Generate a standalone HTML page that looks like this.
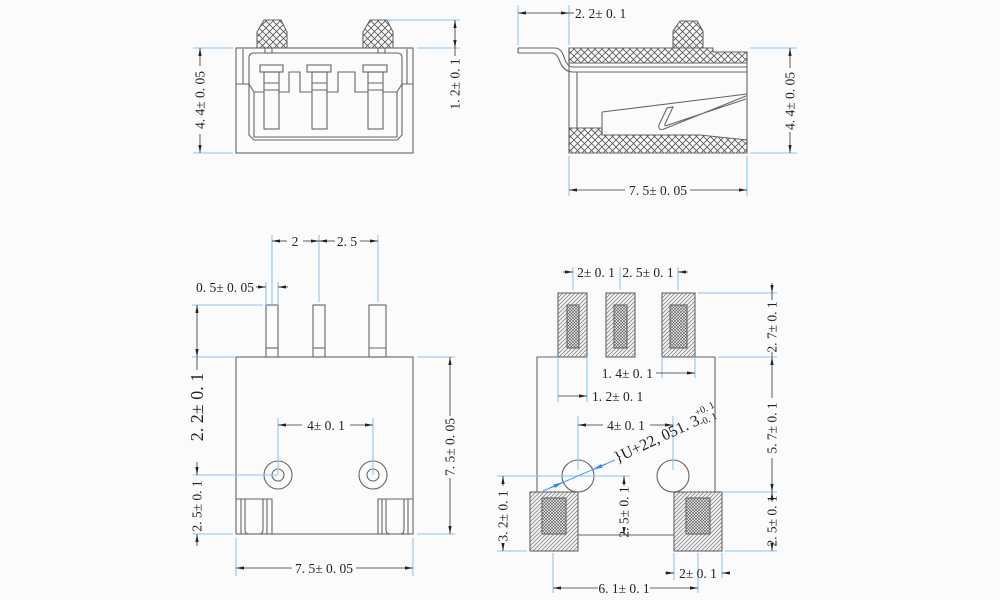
<!DOCTYPE html>
<html><head><meta charset="utf-8"><style>
html,body{margin:0;padding:0;background:#fbfbfb;}
svg{display:block;}
text{font-family:"Liberation Serif",serif;fill:#222;font-size:13.5px;}
</style></head><body>
<svg width="1000" height="600" viewBox="0 0 1000 600" xmlns="http://www.w3.org/2000/svg">
<defs>
<pattern id="xh" width="7" height="7" patternUnits="userSpaceOnUse"><rect width="7" height="7" fill="#fafafa"/><path d="M0,0 L7,7 M7,0 L0,7" stroke="#555" stroke-width="0.8"/></pattern>
<pattern id="dg" width="4" height="4" patternUnits="userSpaceOnUse"><rect width="4" height="4" fill="#f2f2f2"/><path d="M-1,1 L1,-1 M0,4 L4,0 M3,5 L5,3" stroke="#777" stroke-width="0.7"/></pattern>
<pattern id="dx" width="3" height="3" patternUnits="userSpaceOnUse"><rect width="3" height="3" fill="#eee"/><path d="M0,0 L3,3 M3,0 L0,3" stroke="#555" stroke-width="0.6"/></pattern>
<marker id="ar" viewBox="0 0 10 4" refX="10" refY="2" markerWidth="8" markerHeight="3.2" markerUnits="userSpaceOnUse" orient="auto-start-reverse"><path d="M0,0 L10,2 L0,4 z" fill="#222"/></marker>
<marker id="ab" viewBox="0 0 10 4" refX="10" refY="2" markerWidth="10" markerHeight="4" markerUnits="userSpaceOnUse" orient="auto-start-reverse"><path d="M0,0 L10,2 L0,4 z" fill="#2a8cf0"/></marker>
</defs>

<!-- ================= TOP LEFT VIEW ================= -->
<g stroke="#666" fill="none" stroke-width="1.1">
<polygon points="264,20 281,20 287,32 287,48 257,48 257,32" fill="url(#xh)"/>
<polygon points="370,20 387,20 393,32 393,48 363,48 363,32" fill="url(#xh)"/>
<rect x="236" y="48" width="177" height="105"/>
<path d="M243,49 V84 M407,49 V84 M236,84 H249 M413,84 H402"/>
<path d="M249,58 Q249,53 254,53 H397 Q402,53 402,58 V135 L397,140 H254 L249,135 Z"/>
<path d="M249,84 L254,92 V137 H397 V92 L402,84"/>
<rect x="265" y="48" width="7" height="5"/>
<rect x="378" y="48" width="7" height="5"/>
<path d="M254,92 H264 M279,92 H289 V72 H300 V92 H312 M327,92 H338 V72 H355 V92 H368 M383,92 H397"/>
<!-- pins -->
<rect x="260" y="65" width="23" height="7"/><rect x="264" y="72" width="15" height="57"/><path d="M264,83 H279 M264,90 H279"/>
<rect x="307" y="65" width="24" height="7"/><rect x="312" y="72" width="15" height="57"/><path d="M312,83 H327 M312,90 H327"/>
<rect x="363" y="65" width="24" height="7"/><rect x="368" y="72" width="15" height="57"/><path d="M368,83 H383 M368,90 H383"/>
</g>
<g stroke="#8ec5f5" stroke-width="1.1" fill="none">
<path d="M193,48 H233 M193,153 H233 M388,20 H460 M417,48 H460"/>
</g>
<g stroke="#333" stroke-width="0.8" fill="none">
<path d="M200,66 V48" marker-end="url(#ar)"/>
<path d="M200,134 V153" marker-end="url(#ar)"/>
<path d="M455,20 V48" marker-start="url(#ar)" marker-end="url(#ar)"/>
<path d="M455,48 V56"/>
</g>
<text transform="translate(204.5,100) rotate(-90)" text-anchor="middle">4. 4± 0. 05</text>
<text transform="translate(459.5,84) rotate(-90)" text-anchor="middle">1. 2± 0. 1</text>

<!-- ================= TOP RIGHT VIEW ================= -->
<g stroke="#666" fill="none" stroke-width="1.1">
<polygon points="680,21 697,21 703,31 703,48 673,48 673,31" fill="url(#xh)"/>
<polygon points="569,48 713,48 713,52 747,52 747,63 569,63" fill="url(#xh)"/>
<polygon points="569,128 602,128 602,135 700,135 747,140 747,153 569,153" fill="url(#xh)"/>
<path d="M569,48 H713 V52 H747 V153 H569 Z"/>
<path d="M518,48 H555 Q561,48 564,57 Q567,67 573,67 H747"/>
<path d="M518,53 H552 Q557,53 560,62 Q564,72 573,72 H747"/>
<path d="M518,48 V53"/>
<path d="M577,72 V128"/>
<path d="M602,112 V135 M602,112 L747,94"/>
<path d="M746,96 L664,129 Q658,131 659,125 L667,108 L673,107 L665,124 Q664,127 668,125 L746,99"/>
</g>
<g stroke="#8ec5f5" stroke-width="1.1" fill="none">
<path d="M518,5 V45 M569,5 V45 M750,48 H797 M750,153 H797 M569,156 V196 M747,156 V196"/>
</g>
<g stroke="#333" stroke-width="0.8" fill="none">
<path d="M518,13 H569" marker-start="url(#ar)" marker-end="url(#ar)"/>
<path d="M569,13 H574"/>
<path d="M790,68 V48" marker-end="url(#ar)"/>
<path d="M790,132 V153" marker-end="url(#ar)"/>
<path d="M625,190 H569" marker-end="url(#ar)"/>
<path d="M690,190 H747" marker-end="url(#ar)"/>
</g>
<text x="575" y="18">2. 2± 0. 1</text>
<text transform="translate(794.5,101) rotate(-90)" text-anchor="middle">4. 4± 0. 05</text>
<text x="658" y="195" text-anchor="middle">7. 5± 0. 05</text>

<!-- ================= BOTTOM LEFT VIEW ================= -->
<g stroke="#666" fill="none" stroke-width="1.1">
<rect x="236" y="357" width="177" height="177"/>
<rect x="266" y="305" width="12" height="52"/><path d="M266,348 H278"/>
<rect x="313" y="305" width="12" height="52"/><path d="M313,348 H325"/>
<rect x="369" y="305" width="17" height="52"/><path d="M369,348 H386"/>
<circle cx="278" cy="475" r="14"/><circle cx="278" cy="475" r="6"/>
<circle cx="373" cy="475" r="14"/><circle cx="373" cy="475" r="6"/>
<path d="M236,499 H272 V534"/>
<path d="M241,499 V534 M245,499 V530 Q245,534 249,534 M263,499 V530 Q263,534 259,534 M267,499 V534"/>
<path d="M413,499 H378 V534"/>
<path d="M408,499 V534 M404,499 V530 Q404,534 400,534 M386,499 V530 Q386,534 390,534 M382,499 V534"/>
</g>
<g stroke="#8ec5f5" stroke-width="1.1" fill="none">
<path d="M272,235 V305 M319,235 V302 M378,235 V302 M266,282 V305 M278,282 V305"/>
<path d="M192,305 H263 M192,357 H236 M417,357 H455"/>
<path d="M278,418 V475 M373,418 V475 M193,475 H278 M193,534 H233 M417,534 H455"/>
<path d="M236,538 V576 M413,538 V576"/>
</g>
<g stroke="#333" stroke-width="0.8" fill="none">
<path d="M287,241 H272" marker-end="url(#ar)"/>
<path d="M303,241 H319" marker-end="url(#ar)"/>
<path d="M335,241 H319" marker-end="url(#ar)"/>
<path d="M360,241 H378" marker-end="url(#ar)"/>
<path d="M256,287 H266" marker-end="url(#ar)"/>
<path d="M288,287 H278" marker-end="url(#ar)"/>
<path d="M197,305 V357" marker-start="url(#ar)" marker-end="url(#ar)"/>
<path d="M197,357 V370"/>
<path d="M302,425 H278" marker-end="url(#ar)"/>
<path d="M350,425 H373" marker-end="url(#ar)"/>
<path d="M197,462 V475" marker-end="url(#ar)"/>
<path d="M197,546 V534" marker-end="url(#ar)"/>
<path d="M450,416 V357" marker-end="url(#ar)"/>
<path d="M450,478 V534" marker-end="url(#ar)"/>
<path d="M292,568 H236" marker-end="url(#ar)"/>
<path d="M356,568 H413" marker-end="url(#ar)"/>
</g>
<text x="295" y="246" text-anchor="middle">2</text>
<text x="347" y="246" text-anchor="middle">2. 5</text>
<text x="254" y="292" text-anchor="end">0. 5± 0. 05</text>
<text transform="translate(203,407) rotate(-90)" text-anchor="middle" style="font-size:18px">2. 2± 0. 1</text>
<text x="326" y="430" text-anchor="middle">4± 0. 1</text>
<text transform="translate(201.5,506) rotate(-90)" text-anchor="middle">2. 5± 0. 1</text>
<text transform="translate(454.5,447) rotate(-90)" text-anchor="middle">7. 5± 0. 05</text>
<text x="324" y="573" text-anchor="middle">7. 5± 0. 05</text>

<!-- ================= BOTTOM RIGHT VIEW ================= -->
<g stroke="#666" fill="none" stroke-width="1.1">
<path d="M537,492 V357 H558 M695,357 H715 V492"/>
<path d="M578,535 H674"/>
<circle cx="578" cy="476" r="16"/>
<circle cx="673" cy="476" r="16"/>
<rect x="558" y="293" width="29" height="64" fill="url(#dg)"/>
<rect x="567" y="305" width="12" height="43" fill="url(#dx)"/>
<rect x="606" y="293" width="29" height="64" fill="url(#dg)"/>
<rect x="614" y="305" width="13" height="43" fill="url(#dx)"/>
<rect x="662" y="293" width="33" height="64" fill="url(#dg)"/>
<rect x="670" y="305" width="17" height="43" fill="url(#dx)"/>
<rect x="530" y="492" width="48" height="59" fill="url(#dg)"/>
<rect x="542" y="498" width="24" height="36" fill="url(#dx)"/>
<rect x="674" y="492" width="48" height="59" fill="url(#dg)"/>
<rect x="686" y="498" width="24" height="36" fill="url(#dx)"/>
</g>
<g stroke="#8ec5f5" stroke-width="1.1" fill="none">
<path d="M573,267 V290 M620,267 V290 M678,267 V290"/>
<path d="M698,293 H777 M718,357 H777"/>
<path d="M662,357 V378 M695,357 V378 M558,357 V402 M587,357 V402"/>
<path d="M578,416 V470 M673,416 V470"/>
<path d="M497,476 H630 M497,551 H527"/>
<path d="M722,492 H777 M725,551 H777"/>
<path d="M553,553 V593 M674,553 V580 M698,553 V593 M722,553 V578"/>
</g>
<path d="M543,491 L615,460" stroke="#4aa3f5" stroke-width="1" fill="none"/>
<path d="M550,488 L563.3,482.3" stroke="#2a8cf0" stroke-width="1" marker-end="url(#ab)"/>
<path d="M606,464 L592.7,469.7" stroke="#2a8cf0" stroke-width="1" marker-end="url(#ab)"/>
<g stroke="#333" stroke-width="0.8" fill="none">
<path d="M563,272 H573" marker-end="url(#ar)"/>
<path d="M688,272 H678" marker-end="url(#ar)"/>
<path d="M772,283 V293" marker-end="url(#ar)"/>
<path d="M772,300 V293"/>
<path d="M772,352 V357"/>
<path d="M772,365 V357" marker-end="url(#ar)"/>
<path d="M772,365 V398"/>
<path d="M772,458 V492" marker-end="url(#ar)"/>
<path d="M772,502 V492" marker-end="url(#ar)"/>
<path d="M772,546 V551" marker-end="url(#ar)"/>
<path d="M656,373 H695" marker-end="url(#ar)"/>
<path d="M558,396 H587" marker-end="url(#ar)"/>
<path d="M603,425 H578" marker-end="url(#ar)"/>
<path d="M650,425 H673" marker-end="url(#ar)"/>
<path d="M503,486 V476" marker-end="url(#ar)"/>
<path d="M503,546 V551" marker-end="url(#ar)"/>
<path d="M624,486 V476" marker-end="url(#ar)"/>
<path d="M624,531 V535" marker-end="url(#ar)"/>
<path d="M665,573 H674" marker-end="url(#ar)"/>
<path d="M730,573 H722" marker-end="url(#ar)"/>
<path d="M598,588 H553" marker-end="url(#ar)"/>
<path d="M650,588 H698" marker-end="url(#ar)"/>
</g>
<text x="596" y="277" text-anchor="middle">2± 0. 1</text>
<text x="648" y="277" text-anchor="middle">2. 5± 0. 1</text>
<text transform="translate(776.5,327) rotate(-90)" text-anchor="middle">2. 7± 0. 1</text>
<text transform="translate(776.5,428) rotate(-90)" text-anchor="middle">5. 7± 0. 1</text>
<text transform="translate(776.5,521) rotate(-90)" text-anchor="middle">2. 5± 0. 1</text>
<text x="653" y="378" text-anchor="end">1. 4± 0. 1</text>
<text x="592" y="401">1. 2± 0. 1</text>
<text x="626" y="430" text-anchor="middle">4± 0. 1</text>
<text transform="translate(507.5,516) rotate(-90)" text-anchor="middle">3. 2± 0. 1</text>
<text transform="translate(628.5,512) rotate(-90)" text-anchor="middle">2. 5± 0. 1</text>
<text x="698" y="578" text-anchor="middle">2± 0. 1</text>
<text x="624" y="593" text-anchor="middle">6. 1± 0. 1</text>
<g transform="translate(617,463) rotate(-25)">
<text x="0" y="0" style="font-size:16px">}U+22, 051. 3</text>
<text x="92" y="-9" style="font-size:10px">+0. 1</text>
<text x="92" y="2" style="font-size:10px">-0. 1</text>
</g>
</svg>
</body></html>
